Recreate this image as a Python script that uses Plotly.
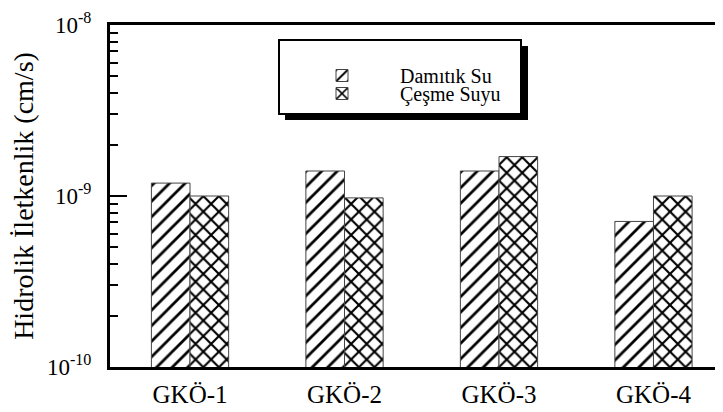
import plotly.graph_objects as go

# Veriler
numuneler = ["GKÖ-1", "GKÖ-2", "GKÖ-3", "GKÖ-4"]
damitik_su = [1.19e-9, 1.40e-9, 1.40e-9, 0.71e-9]
cesme_suyu = [1.00e-9, 0.975e-9, 1.70e-9, 1.00e-9]

y_tickvals = [1e-10, 1e-9, 1e-8]
y_ticktext = ["10<sup>-10</sup>", "10<sup>-9</sup>", "10<sup>-8</sup>"]
y_minor = [k * 10.0 ** e for e in (-10, -9) for k in range(2, 10)]

FONT = "Liberation Serif, Times New Roman, serif"

fig = go.Figure()
fig.add_trace(go.Bar(
    x=numuneler, y=damitik_su, name="Damıtık Su", legend="legend",
    marker=dict(color="white", line=dict(color="#444", width=1),
                pattern=dict(shape="/", fgcolor="black", bgcolor="white",
                             fgopacity=1, size=11, solidity=0.25)),
))
fig.add_trace(go.Bar(
    x=numuneler, y=cesme_suyu, name="Çeşme Suyu", legend="legend2",
    marker=dict(color="white", line=dict(color="#444", width=1),
                pattern=dict(shape="x", fgcolor="black", bgcolor="white",
                             fgopacity=1, size=11, solidity=0.35)),
))

# sayfa gövdesinin 8px kenar boşluğu hesaba katılıyor
OFF = 8
W, H = 723 - OFF, 412 - OFF
L, R, T, B = 110 - OFF, 723 - OFF, 25 - OFF, 367 - OFF

def px(x):
    return (x - OFF - L) / (R - L)
def py(y):
    return (B - (y - OFF)) / (B - T)

leg = dict(xanchor="left", yanchor="top", bgcolor="rgba(0,0,0,0)",
           borderwidth=0, font=dict(size=20, family=FONT), itemwidth=106)

fig.update_layout(
    width=W, height=H,
    margin=dict(l=L, r=W - R, t=T, b=H - B),
    paper_bgcolor="white", plot_bgcolor="white",
    font=dict(family=FONT, color="black"),
    barmode="group", bargap=0.5, bargroupgap=0,
    showlegend=True,
    legend=dict(leg, x=px(284), y=py(56)),
    legend2=dict(leg, x=px(284), y=py(74)),
    shapes=[
        dict(type="rect", xref="paper", yref="paper",
             x0=px(285), x1=px(528), y0=py(120), y1=py(46),
             fillcolor="black", line=dict(width=0)),
        dict(type="rect", xref="paper", yref="paper",
             x0=px(279), x1=px(521), y0=py(114), y1=py(40),
             fillcolor="white", line=dict(color="black", width=2)),
    ],
)

fig.update_xaxes(
    type="category", range=[-0.518, 3.45], automargin=False,
    showline=True, linewidth=3, linecolor="black", mirror=True,
    ticks="", ticklabelstandoff=3,
    tickfont=dict(size=25, family=FONT), showgrid=False,
)
fig.update_yaxes(
    type="log", range=[-10, -8], automargin=False,
    tickmode="array", tickvals=y_tickvals, ticktext=y_ticktext,
    ticks="inside", ticklen=17, tickwidth=2, tickcolor="black",
    minor=dict(tickvals=y_minor, ticks="inside", ticklen=8, tickwidth=2,
               tickcolor="black", showgrid=False),
    showline=True, linewidth=3, linecolor="black",
    showgrid=False, zeroline=False, ticklabelstandoff=11,
    tickfont=dict(size=23, family=FONT),
    title=dict(text="Hidrolik İletkenlik (cm/s)", font=dict(size=28, family=FONT),
               standoff=8),
)
fig.update_layout(yaxis2=dict(
    overlaying="y", side="right", type="log", range=[-10, -8], automargin=False,
    tickmode="array", tickvals=y_tickvals, ticks="inside", ticklen=9,
    tickwidth=2, tickcolor="black", showticklabels=False,
    minor=dict(tickvals=y_minor, ticks="inside", ticklen=3, tickwidth=2,
               tickcolor="black", showgrid=False),
    showline=False, showgrid=False, zeroline=False,
))

fig.write_html("out.html")
